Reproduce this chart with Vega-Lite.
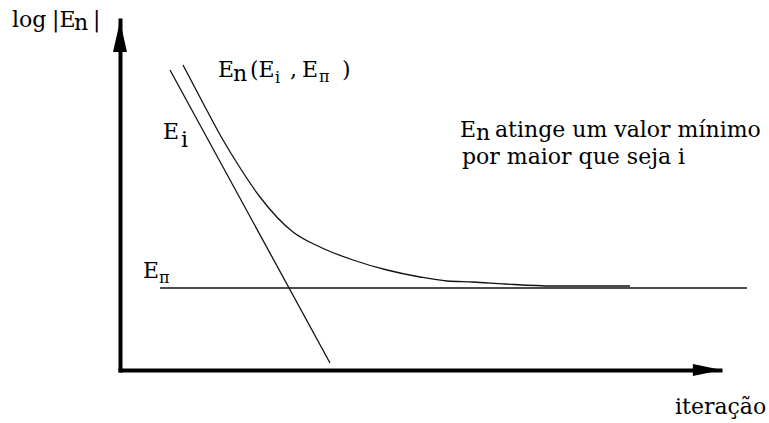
{
  "$schema": "https://vega.github.io/schema/vega-lite/v6.json",
  "width": 600,
  "height": 350,
  "autosize": {"type": "none"},
  "padding": {"left": 120, "top": 20, "right": 49, "bottom": 53},
  "background": "white",
  "config": {
    "view": {"stroke": null},
    "axis": {"labels": false, "ticks": false, "grid": false, "domain": true, "domainWidth": 4, "domainColor": "#000", "domainCap": "square"}
  },
  "datasets": {
    "curves": [
      {"series": "Epi", "X": 0.667, "Y": 2.343},
      {"series": "Epi", "X": 10.45, "Y": 2.343},
      {"series": "Ei", "X": 0.833, "Y": 8.571},
      {"series": "Ei", "X": 3.5, "Y": 0.2},
      {"series": "En", "X": 1.05, "Y": 8.714},
      {"series": "En", "X": 1.383, "Y": 7.629},
      {"series": "En", "X": 1.717, "Y": 6.571},
      {"series": "En", "X": 1.95, "Y": 5.914},
      {"series": "En", "X": 2.333, "Y": 4.943},
      {"series": "En", "X": 2.883, "Y": 3.943},
      {"series": "En", "X": 3.333, "Y": 3.514},
      {"series": "En", "X": 3.883, "Y": 3.143},
      {"series": "En", "X": 4.45, "Y": 2.857},
      {"series": "En", "X": 5.0, "Y": 2.657},
      {"series": "En", "X": 5.45, "Y": 2.543},
      {"series": "En", "X": 5.883, "Y": 2.514},
      {"series": "En", "X": 6.417, "Y": 2.457},
      {"series": "En", "X": 7.217, "Y": 2.4},
      {"series": "En", "X": 8.5, "Y": 2.4}
    ],
    "arrowY": [{"X": 0, "Y": 9.53}],
    "arrowX": [{"X": 9.79, "Y": 0}],
    "textMain": [
      {"t": "log", "X": -1.8, "Y": 9.8},
      {"t": "|E", "X": -1.133, "Y": 9.8},
      {"t": "n", "X": -0.767, "Y": 9.714},
      {"t": "|", "X": -0.45, "Y": 9.8},
      {"t": "E", "X": 1.633, "Y": 8.371},
      {"t": "n", "X": 1.883, "Y": 8.257},
      {"t": "(E", "X": 2.167, "Y": 8.371},
      {"t": ",", "X": 2.833, "Y": 8.371},
      {"t": "E", "X": 3.033, "Y": 8.371},
      {"t": ")", "X": 3.7, "Y": 8.371},
      {"t": "E", "X": 0.717, "Y": 6.6},
      {"t": "i", "X": 1.017, "Y": 6.371},
      {"t": "E", "X": 0.383, "Y": 2.629},
      {"t": "E", "X": 5.667, "Y": 6.657},
      {"t": "n", "X": 5.933, "Y": 6.571},
      {"t": "atinge um valor mínimo", "X": 6.25, "Y": 6.657},
      {"t": "por maior que seja i", "X": 5.7, "Y": 5.886},
      {"t": "iteração", "X": 9.25, "Y": -1.257}
    ],
    "textSub": [
      {"t": "i", "X": 2.583, "Y": 8.2},
      {"t": "π", "X": 3.317, "Y": 8.229},
      {"t": "π", "X": 0.65, "Y": 2.486}
    ]
  },
  "layer": [
    {
      "data": {"name": "curves"},
      "mark": {"type": "line", "color": "#111", "strokeWidth": 1.3, "interpolate": "monotone", "clip": false},
      "encoding": {
        "x": {"field": "X", "type": "quantitative", "title": null, "scale": {"domain": [0, 10], "nice": false, "zero": false}},
        "y": {"field": "Y", "type": "quantitative", "title": null, "scale": {"domain": [0, 10], "nice": false, "zero": false}},
        "detail": {"field": "series", "type": "nominal"}
      }
    },
    {
      "data": {"name": "arrowY"},
      "mark": {"type": "point", "filled": true, "color": "#000", "opacity": 1, "shape": "M0,-1L0.45,1L-0.45,1Z", "size": 961, "clip": false},
      "encoding": {
        "x": {"field": "X", "type": "quantitative", "title": null, "scale": {"domain": [0, 10], "nice": false, "zero": false}},
        "y": {"field": "Y", "type": "quantitative", "title": null, "scale": {"domain": [0, 10], "nice": false, "zero": false}}
      }
    },
    {
      "data": {"name": "arrowX"},
      "mark": {"type": "point", "filled": true, "color": "#000", "opacity": 1, "shape": "M1,0L-1,0.42L-1,-0.42Z", "size": 841, "clip": false},
      "encoding": {
        "x": {"field": "X", "type": "quantitative", "title": null, "scale": {"domain": [0, 10], "nice": false, "zero": false}},
        "y": {"field": "Y", "type": "quantitative", "title": null, "scale": {"domain": [0, 10], "nice": false, "zero": false}}
      }
    },
    {
      "data": {"name": "textMain"},
      "mark": {"type": "text", "font": "DejaVu Serif", "fontSize": 22, "align": "left", "baseline": "alphabetic", "color": "#000", "clip": false},
      "encoding": {
        "x": {"field": "X", "type": "quantitative", "title": null, "scale": {"domain": [0, 10], "nice": false, "zero": false}},
        "y": {"field": "Y", "type": "quantitative", "title": null, "scale": {"domain": [0, 10], "nice": false, "zero": false}},
        "text": {"field": "t", "type": "nominal"}
      }
    },
    {
      "data": {"name": "textSub"},
      "mark": {"type": "text", "font": "DejaVu Serif", "fontSize": 16, "align": "left", "baseline": "alphabetic", "color": "#000", "clip": false},
      "encoding": {
        "x": {"field": "X", "type": "quantitative", "title": null, "scale": {"domain": [0, 10], "nice": false, "zero": false}},
        "y": {"field": "Y", "type": "quantitative", "title": null, "scale": {"domain": [0, 10], "nice": false, "zero": false}},
        "text": {"field": "t", "type": "nominal"}
      }
    }
  ]
}
